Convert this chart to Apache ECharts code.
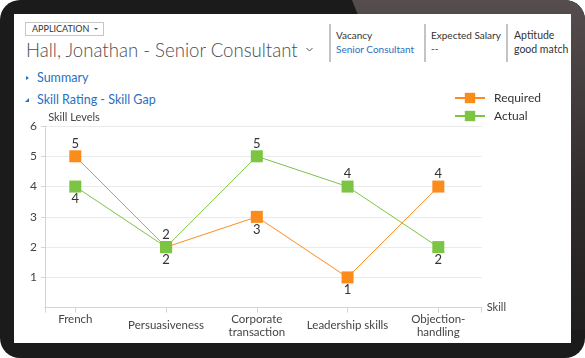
<!DOCTYPE html>
<html>
<head>
<meta charset="utf-8">
<script src="https://cdn.jsdelivr.net/npm/echarts@6/dist/echarts.min.js"></script>
<style>
html,body{margin:0;padding:0;background:#fff;}
#stage{position:relative;width:585px;height:358px;overflow:hidden;}
#frame{position:absolute;left:0;top:0;width:585px;height:358px;border-radius:20px;background:#1b1b1b;overflow:hidden;}
#glare{position:absolute;left:0;top:0;width:585px;height:358px;
  background:linear-gradient(180deg,#564e4e 0%,#332e2e 50%,#1d1b1b 100%);
  clip-path:polygon(352px 0,585px 0,585px 330px,540px 330px,360px 20px);}
#screen{position:absolute;left:14px;top:14px;width:557px;height:329px;background:#fff;}
.t{position:absolute;white-space:nowrap;font-family:Lato,"Open Sans",sans-serif;color:#333;height:14px;line-height:14px;}
.blue{color:#2a70c0;}
.div{position:absolute;top:24px;width:1.5px;height:38px;background:#c4c4c4;}
#chart{position:absolute;left:0;top:0;width:585px;height:358px;}
</style>
</head>
<body>
<div id="stage">
  <div id="frame"><div id="glare"></div><div id="screen"></div></div>
  <div style="position:absolute;left:25px;top:22px;width:77px;height:12px;border:1px solid #c6c6c6;background:#fff;"></div>
  <div class="t" style="left:32px;top:22px;font-size:9px;">APPLICATION</div>
  <div style="position:absolute;left:94px;top:28px;width:0;height:0;border-left:2.5px solid transparent;border-right:2.5px solid transparent;border-top:2.5px solid #555;"></div>
  <div class="t" style="left:26px;top:39px;height:22px;line-height:22px;font-size:18.6px;font-weight:300;color:#4c4c4c;">Hall, Jonathan - Senior Consultant</div>
  <svg style="position:absolute;left:305px;top:46px;" width="9" height="7"><polyline points="1.5,2 4.5,5 7.5,2" fill="none" stroke="#555" stroke-width="1"/></svg>
  <div class="div" style="left:329px;"></div>
  <div class="div" style="left:424px;"></div>
  <div class="div" style="left:506px;"></div>
  <div class="t" style="left:336px;top:28px;font-size:10px;">Vacancy</div>
  <div class="t blue" style="left:336px;top:42px;font-size:10px;">Senior Consultant</div>
  <div class="t" style="left:431px;top:28px;font-size:10px;">Expected Salary</div>
  <div class="t" style="left:431px;top:41px;font-size:10px;">--</div>
  <div class="t" style="left:514px;top:28px;font-size:10.5px;">Aptitude</div>
  <div class="t" style="left:514px;top:42px;font-size:10.5px;">good match</div>
  <div style="position:absolute;left:26px;top:75.5px;width:0;height:0;border-top:2.5px solid transparent;border-bottom:2.5px solid transparent;border-left:3px solid #2a70c0;"></div>
  <div class="t blue" style="left:37px;top:71px;font-size:12.5px;">Summary</div>
  <div style="position:absolute;left:25px;top:97.5px;width:0;height:0;border-left:4px solid transparent;border-bottom:4px solid #2a70c0;"></div>
  <div class="t blue" style="left:37px;top:93px;font-size:12.5px;">Skill Rating - Skill Gap</div>
  <div id="chart"></div>
</div>
<script>
// ---- data ----
var categories = ['French', 'Persuasiveness', 'Corporate transaction', 'Leadership skills', 'Objection-handling'];
var tickLabels = ['French\n ', 'Persuasiveness', 'Corporate\ntransaction', 'Leadership skills', 'Objection-\nhandling'];
var required = [5, 2, 3, 1, 4];
var actual = [4, 2, 5, 4, 2];
var requiredLabelPos = ['top', 'top', 'bottom', 'bottom', 'top'];
var actualLabelPos = ['bottom', 'bottom', 'top', 'top', 'bottom'];
var yTicks = [0, 1, 2, 3, 4, 5, 6];

var FONT = 'Lato, "Open Sans", sans-serif';
var ORANGE = '#fb8c1c';
var GREEN = '#7cc443';

// category positions on the x value axis: 1..5
function buildSeries(vals, pos) {
  return vals.map(function (v, i) {
    return { value: [i + 1, v], label: { position: pos[i] } };
  });
}

var chart = echarts.init(document.getElementById('chart'), null, { renderer: 'canvas' });

var option = {
  animation: false,
  backgroundColor: 'transparent',
  textStyle: { fontFamily: FONT },
  legend: {
    orient: 'vertical',
    left: 454,
    top: 92,
    padding: 0,
    itemWidth: 30,
    itemHeight: 13,
    itemGap: 6,
    textStyle: { fontSize: 12, color: '#333', padding: [0, 0, 0, 4] },
    data: ['Required', 'Actual']
  },
  grid: { left: 45, top: 126, width: 436.7, height: 181.7, containLabel: false },
  xAxis: {
    type: 'value',
    min: 0.666,
    max: 5.478,
    name: 'Skill',
    nameGap: 5,
    nameTextStyle: { fontSize: 11, color: '#444', padding: [5, 0, 0, 0] },
    axisLine: { show: true, onZero: false, lineStyle: { color: '#d4d4d4' } },
    axisTick: { show: true, length: 5, lineStyle: { color: '#d4d4d4' } },
    splitLine: { show: false },
    axisLabel: {
      fontSize: 11.5, color: '#444', lineHeight: 13, verticalAlign: 'middle', margin: 18,
      formatter: function (v) {
        var r = Math.round(v);
        return Math.abs(v - r) < 1e-6 && r >= 1 && r <= tickLabels.length ? tickLabels[r - 1] : '';
      }
    }
  },
  yAxis: {
    type: 'value',
    min: yTicks[0],
    max: yTicks[yTicks.length - 1],
    interval: 1,
    name: 'Skill Levels',
    nameGap: 3,
    nameTextStyle: { fontSize: 11, color: '#444', padding: [0, 0, 0, 58] },
    axisLine: { show: true, onZero: false, lineStyle: { color: '#d4d4d4' } },
    axisTick: { show: true, length: 4, lineStyle: { color: '#d4d4d4' } },
    splitLine: { show: true, lineStyle: { color: '#ebebeb' } },
    axisLabel: { fontSize: 12, color: '#444', margin: 8, showMinLabel: false }
  },
  series: [
    {
      name: 'Required', type: 'line',
      data: buildSeries(required, requiredLabelPos),
      symbol: 'rect', symbolSize: 12,
      lineStyle: { color: ORANGE, width: 1 },
      itemStyle: { color: ORANGE },
      label: { show: true, distance: 0, fontSize: 13, color: '#333',
        formatter: function (p) { return p.value[1]; } }
    },
    {
      name: 'Actual', type: 'line',
      data: buildSeries(actual, actualLabelPos),
      symbol: 'rect', symbolSize: 12,
      lineStyle: { color: GREEN, width: 1 },
      itemStyle: { color: GREEN },
      label: { show: true, distance: 0, fontSize: 13, color: '#333',
        formatter: function (p) { return p.value[1]; } }
    }
  ]
};
chart.setOption(option);
</script>
</body>
</html>
